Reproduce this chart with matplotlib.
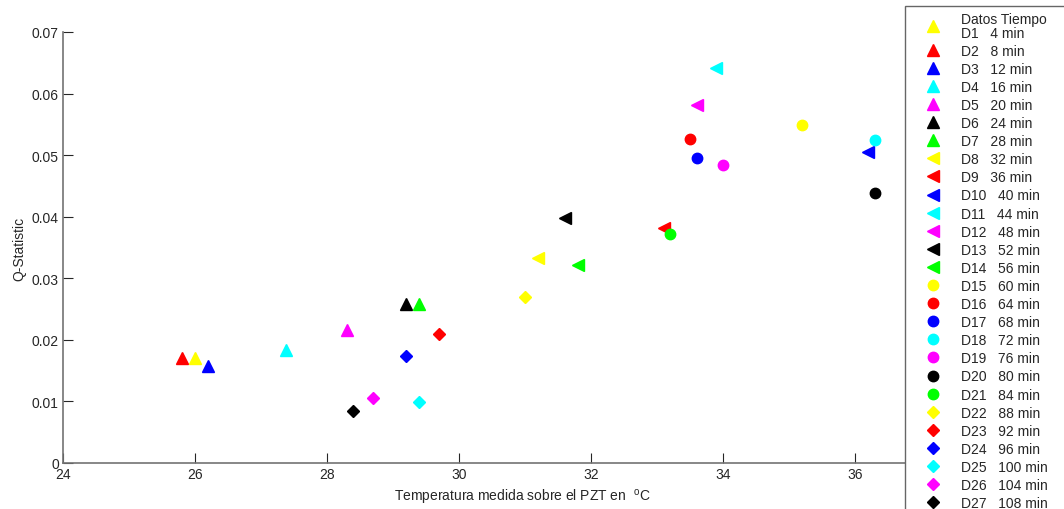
import matplotlib
matplotlib.use("Agg")
import matplotlib.pyplot as plt
from matplotlib.patches import Rectangle

plt.rcParams['font.family'] = ['Liberation Sans', 'DejaVu Sans']
plt.rcParams['mathtext.fontset'] = 'custom'
plt.rcParams['mathtext.rm'] = 'Liberation Sans'

labels = [f"D{i}" for i in range(1, 28)]
times = [4, 8, 12, 16, 20, 24, 28, 32, 36, 40, 44, 48, 52, 56, 60, 64, 68, 72,
         76, 80, 84, 88, 92, 96, 100, 104, 108]
temperature = [26.0, 25.8, 26.2, 27.38, 28.3, 29.2, 29.4,
               31.2, 33.1, 36.2, 33.9, 33.6, 31.6, 31.8,
               35.2, 33.5, 33.6, 36.3, 34.0, 36.3, 33.2,
               31.0, 29.7, 29.2, 29.4, 28.7, 28.4]
q_statistic = [0.0170, 0.0170, 0.0158, 0.0183, 0.0216, 0.0259, 0.0259,
               0.0333, 0.0381, 0.0505, 0.0641, 0.0581, 0.0398, 0.0322,
               0.0549, 0.0526, 0.0495, 0.0525, 0.0484, 0.0439, 0.0372,
               0.0269, 0.0210, 0.0174, 0.0099, 0.0105, 0.0085]
colors = ['#ffff00', '#ff0000', '#0000ff', '#00ffff', '#ff00ff', '#000000', '#00ff00'] * 4
markers = ['^'] * 7 + ['<'] * 7 + ['o'] * 7 + ['D'] * 6
msizes = {'^': 8, '<': 8, 'o': 7.5, 'D': 6}

W, H = 1064, 510
fig = plt.figure(figsize=(W / 100, H / 100), dpi=100)
ax = fig.add_axes([63 / W, 1 - 464 / H, (921 - 63) / W, (464 - 33) / H])

handles = []
for i in range(27):
    h, = ax.plot(temperature[i], q_statistic[i], linestyle='none', marker=markers[i],
                 markersize=msizes[markers[i]], color=colors[i], markeredgecolor=colors[i])
    handles.append(h)

leg_labels = [f"{labels[i]}   {times[i]} min" for i in range(27)]
leg_labels[0] = "Datos Tiempo\n" + leg_labels[0]

ax.set_xlim(24, 37)
ax.set_ylim(0, 0.07)
ax.set_xticks([24, 26, 28, 30, 32, 34, 36])
ax.set_yticks([0, 0.01, 0.02, 0.03, 0.04, 0.05, 0.06, 0.07])
ax.set_yticklabels(['0', '0.01', '0.02', '0.03', '0.04', '0.05', '0.06', '0.07'])
for s in ['top', 'right']:
    ax.spines[s].set_visible(False)
for s in ['left', 'bottom']:
    ax.spines[s].set_color('0.45')
    ax.spines[s].set_linewidth(1.2)
ax.tick_params(direction='in', length=7, width=0.8, color='0.15', labelsize=10,
               labelcolor='0.15', pad=3)
ax.set_xlabel(r'Temperatura medida sobre el PZT en  $^{\rm o}$C', fontsize=10, color='0.15', labelpad=4)
ax.xaxis.label.set_x((522 - 63) / (921 - 63))
ax.set_ylabel('Q-Statistic', fontsize=10, color='0.15', labelpad=4)

# legend frame extending past the figure edges, as in the reference
frame = Rectangle((905 / W, -0.05), (W + 20 - 905) / W, 1 - 7 / H + 0.05,
                  transform=fig.transFigure, facecolor='white', edgecolor='0.4',
                  linewidth=1.0, clip_on=False, zorder=3)
fig.patches.append(frame)

leg = fig.legend(handles, leg_labels, loc='upper left',
                 bbox_to_anchor=(905 / W, 1 - 7 / H), fontsize=10,
                 frameon=False,
                 borderpad=0.4, handlelength=3.3, handletextpad=0.3,
                 labelspacing=0.295, borderaxespad=0)
leg.set_zorder(5)
for t in leg.get_texts():
    t.set_color('0.15')
leg.get_texts()[0].set_linespacing(1.0)

fig.savefig('out.png', dpi=100)
